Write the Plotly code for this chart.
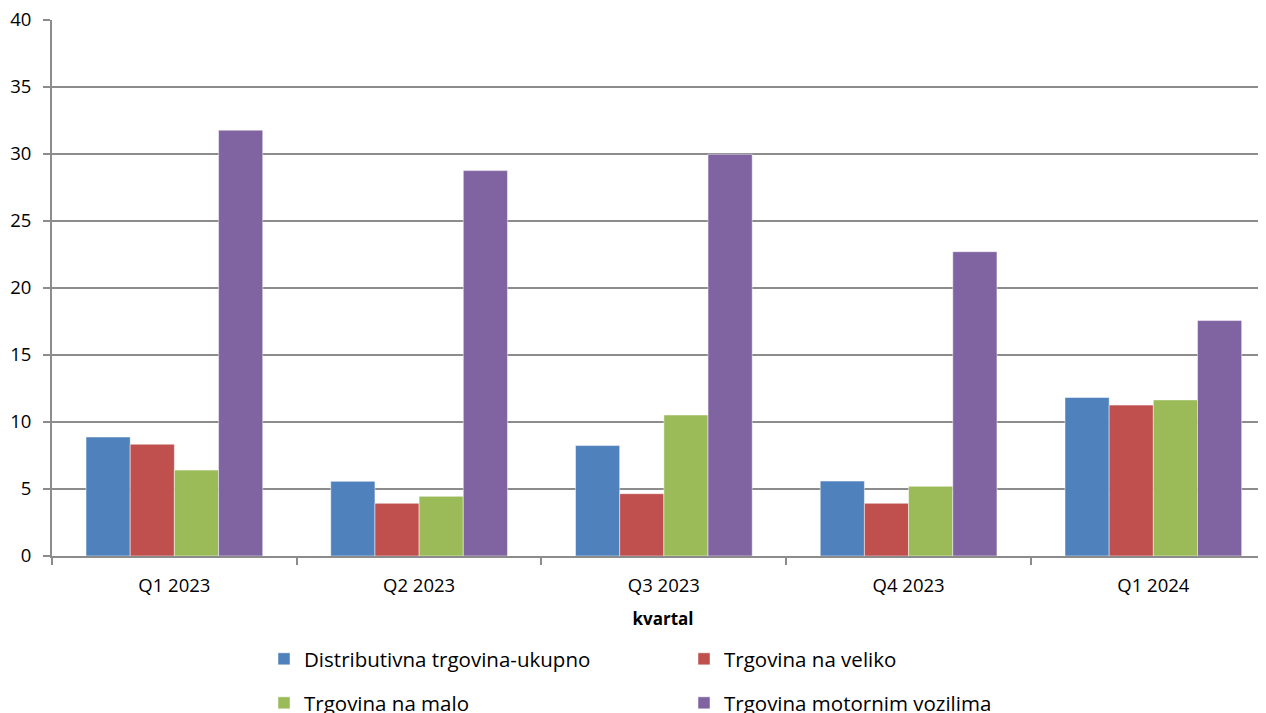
import plotly.graph_objects as go

categories = ["Q1 2023", "Q2 2023", "Q3 2023", "Q4 2023", "Q1 2024"]
s_total = [8.88, 5.57, 8.24, 5.59, 11.83]
s_wholesale = [8.34, 3.93, 4.65, 3.93, 11.26]
s_retail = [6.41, 4.45, 10.52, 5.20, 11.65]
s_motor = [31.78, 28.76, 29.98, 22.71, 17.57]
names = ["Distributivna trgovina-ukupno", "Trgovina na veliko",
         "Trgovina na malo", "Trgovina motornim vozilima"]
colors = ["#4F81BD", "#C0504D", "#9BBB59", "#8064A2"]
y_ticks = [0, 5, 10, 15, 20, 25, 30, 35, 40]

FONT = "Open Sans"
fig = go.Figure()
series = [s_total, s_wholesale, s_retail, s_motor]
legends = ["legend", "legend", "legend2", "legend2"]
for name, vals, col, lg in zip(names, series, colors, legends):
    fig.add_trace(go.Bar(
        x=categories, y=vals, name=name,
        marker=dict(color=col, line=dict(color="rgba(255,255,255,0.6)", width=0.8)),
        legend=lg,
    ))

# page body has an 8px default margin, so screen = figure + 8
OFF = 8
W, H = 1266, 713
L, T, B = 52 - OFF, 20 - OFF, H - (556 - OFF)
plot_h = H - T - B
plot_w = W - L

def py(screen_y):
    return (H - B - (screen_y - OFF)) / plot_h

def px(fig_x):
    return (fig_x - L) / plot_w

legend_common = dict(
    orientation="h", xanchor="left", yanchor="middle",
    font=dict(family=FONT, size=20.5, color="#000000"),
    entrywidth=375, entrywidthmode="pixels",
    bgcolor="rgba(0,0,0,0)", traceorder="normal",
)

fig.update_layout(
    width=W, height=H,
    margin=dict(l=L, r=0, t=T, b=B, autoexpand=False),
    paper_bgcolor="white", plot_bgcolor="white",
    barmode="group", bargap=0.278, bargroupgap=0.0,
    font=dict(family=FONT, size=18, color="#000000"),
    showlegend=True,
    legend=dict(x=px(256), y=py(659), **legend_common),
    legend2=dict(x=px(256), y=py(703), **legend_common),
    xaxis=dict(
        range=[-0.5, 4.493],
        showline=True, linecolor="#8C8C8C", linewidth=2,
        ticks="outside", tickson="boundaries", ticklen=7, tickwidth=2, tickcolor="#8C8C8C",
        showgrid=False,
        tickfont=dict(family=FONT, size=18.5, color="#000000"),
        ticklabelstandoff=12,
        ticklabeloverflow="allow",
        title=dict(text="<b>kvartal</b>", font=dict(family=FONT, size=17, color="#000000"), standoff=17),
    ),
    yaxis=dict(
        range=[0, 40], tickvals=y_ticks,
        showline=True, linecolor="#8C8C8C", linewidth=2,
        ticks="outside", ticklen=7, tickwidth=2, tickcolor="#8C8C8C",
        showgrid=True, gridcolor="#8C8C8C", gridwidth=2,
        zeroline=False,
        tickfont=dict(family=FONT, size=18.5, color="#000000"),
        ticklabelstandoff=8,
        ticklabeloverflow="allow",
    ),
)

fig.write_html("out.html")
